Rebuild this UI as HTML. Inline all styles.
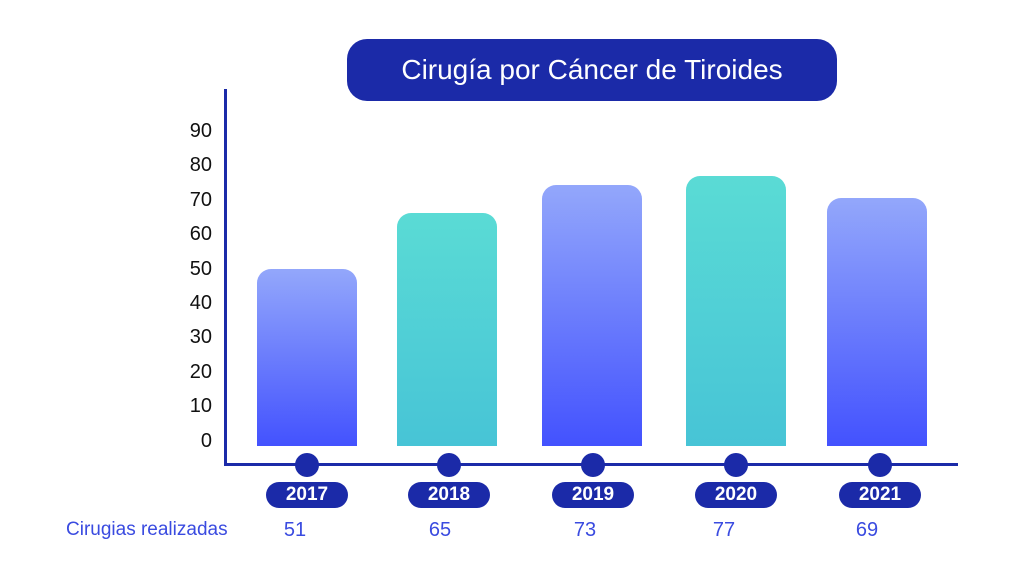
<!DOCTYPE html>
<html><head><meta charset="utf-8"><style>
body{margin:0;width:1024px;height:574px;background:#fff;position:relative;overflow:hidden;font-family:"Liberation Sans",sans-serif}
.a{position:absolute}
.bar{position:absolute;width:100px;border-radius:14px 14px 0 0;bottom:128px}
.b{background:linear-gradient(#93a7fb,#4352fe)}
.t{background:linear-gradient(#5adbd5,#47c4d6)}
.tick{position:absolute;left:168px;width:44px;text-align:right;font-size:20px;color:#111;line-height:20px}
.dot{position:absolute;width:24px;height:24px;border-radius:50%;background:#1b2aa8;top:453px}
.pill{position:absolute;width:82px;height:26px;border-radius:13px;background:#1b2aa8;color:#fff;font-weight:bold;font-size:19px;line-height:26px;text-align:center;top:482px}
.v{position:absolute;top:519px;font-size:20px;color:#3a4be0;width:60px;text-align:center}
</style></head><body>
<div class="a" style="left:347px;top:39px;width:490px;height:62px;border-radius:20px;background:#1b2aa8;color:#fff;font-size:28px;line-height:62px;text-align:center">Cirugía por Cáncer de Tiroides</div>
<div class="a" style="left:224px;top:89px;width:3px;height:377px;background:#1b2aa8"></div>
<div class="a" style="left:224px;top:463px;width:734px;height:3px;background:#1b2aa8"></div>
<div class="tick" style="top:121px">90</div>
<div class="tick" style="top:155px">80</div>
<div class="tick" style="top:190px">70</div>
<div class="tick" style="top:224px">60</div>
<div class="tick" style="top:259px">50</div>
<div class="tick" style="top:293px">40</div>
<div class="tick" style="top:327px">30</div>
<div class="tick" style="top:362px">20</div>
<div class="tick" style="top:396px">10</div>
<div class="tick" style="top:431px">0</div>
<div class="bar b" style="left:257px;top:269px;height:177px"></div>
<div class="bar t" style="left:397px;top:213px;height:233px"></div>
<div class="bar b" style="left:542px;top:185px;height:261px"></div>
<div class="bar t" style="left:686px;top:176px;height:270px"></div>
<div class="bar b" style="left:827px;top:198px;height:248px"></div>
<div class="dot" style="left:295px"></div><div class="dot" style="left:437px"></div><div class="dot" style="left:581px"></div><div class="dot" style="left:724px"></div><div class="dot" style="left:868px"></div>
<div class="pill" style="left:266px">2017</div><div class="pill" style="left:408px">2018</div><div class="pill" style="left:552px">2019</div><div class="pill" style="left:695px">2020</div><div class="pill" style="left:839px">2021</div>
<div class="a" style="left:66px;top:519px;font-size:19px;color:#3a4be0">Cirugias realizadas</div>
<div class="v" style="left:265px">51</div><div class="v" style="left:410px">65</div><div class="v" style="left:555px">73</div><div class="v" style="left:694px">77</div><div class="v" style="left:837px">69</div>
</body></html>
